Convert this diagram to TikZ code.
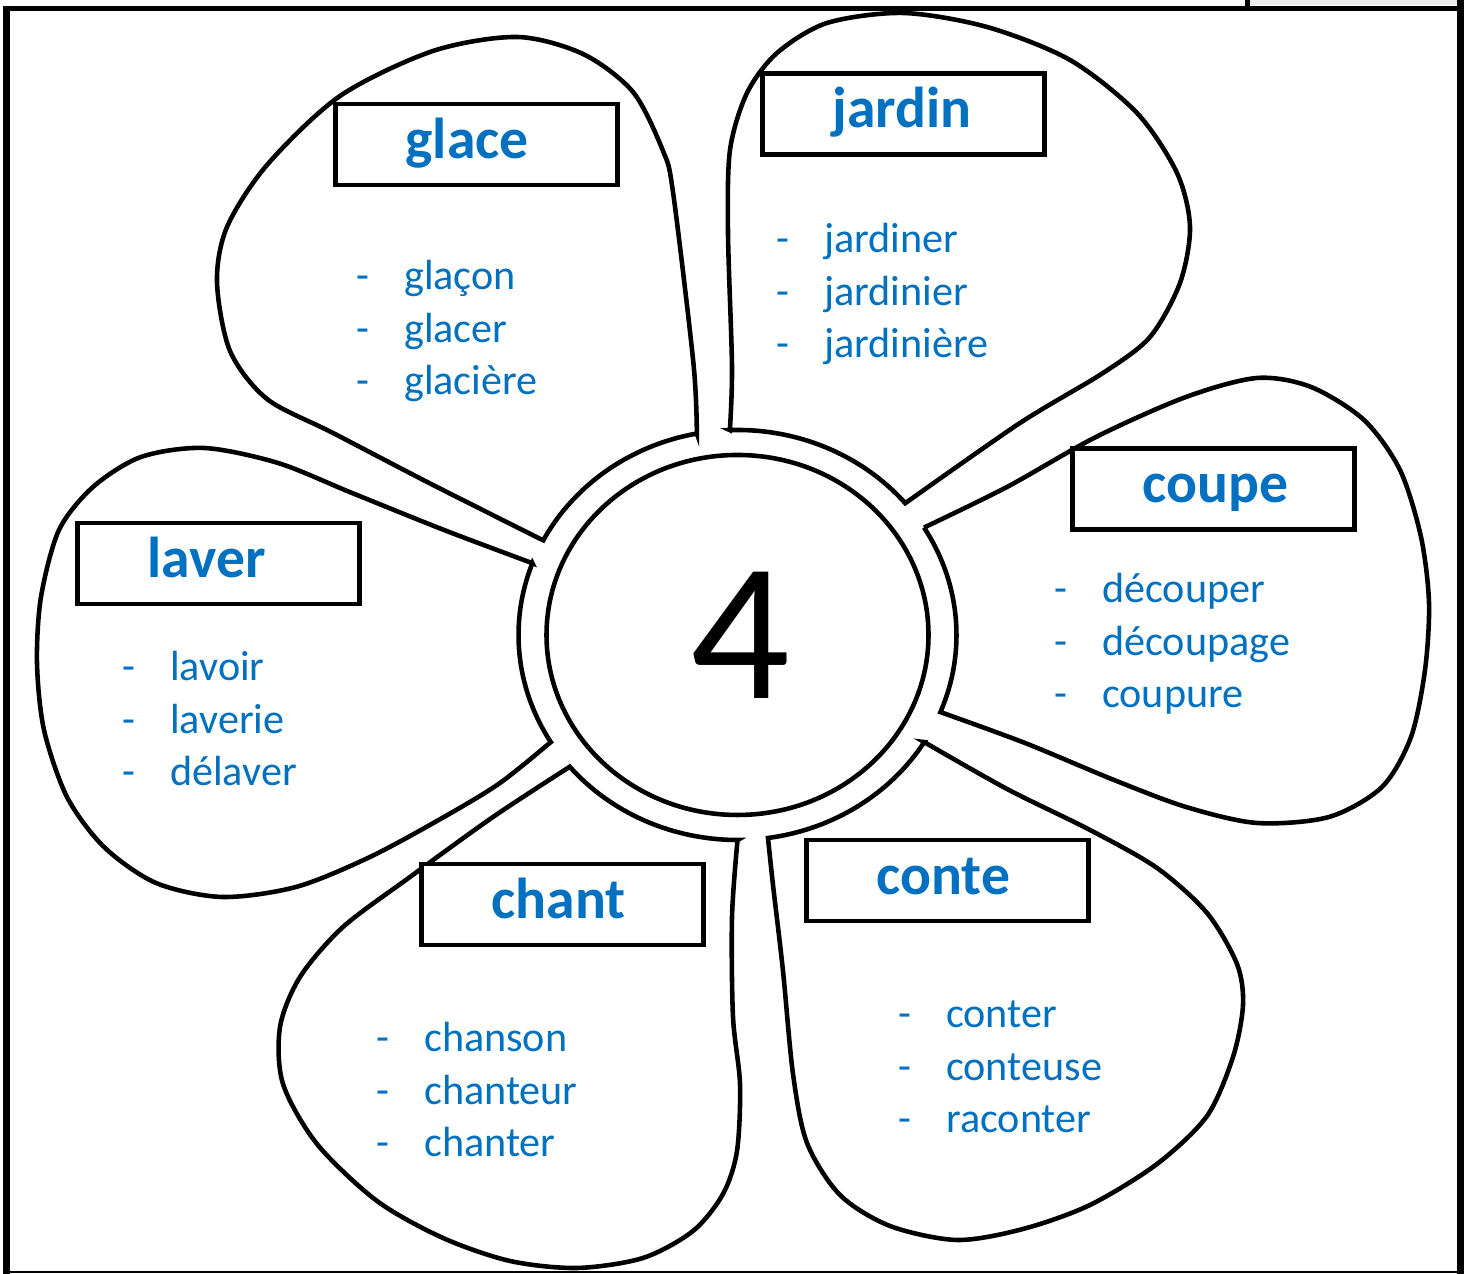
\documentclass[tikz,border=0pt]{standalone}
\usepackage{fontspec}
\setmainfont{Carlito}
\usepackage{tikz}

\definecolor{wordblue}{HTML}{0070C0}
\newcommand{\tiret}{\makebox[0.48cm][l]{-}\strut}
\newcommand{\titre}[1]{\makebox[1.42cm][l]{#1}}

\tikzset{
  petal/.style={line width=1.3pt},
  headbox/.style={draw, line width=1.3pt, fill=white, minimum width=2.82cm,
    minimum height=0.81cm, inner sep=0pt, text=wordblue,
    font=\fontsize{16.4}{19}\selectfont\bfseries, text height=0.4cm, text depth=0.12cm},
  wordlist/.style={anchor=west, inner sep=0pt, align=left, text=wordblue,
    font=\fontsize{12}{14.94}\selectfont},
  frame/.style={line width=2pt}
}

\begin{document}
\begin{tikzpicture}
  \useasboundingbox[fill=white] (0,0) rectangle (14.69,12.74);
  % cadre
  \fill[gray!15] (12.50,12.69) rectangle (14.57,12.74);
  \fill (12.45,12.68) rectangle (12.50,12.74);
  \draw[frame] (0.065,0) -- (0.065,12.68);
  \draw[line width=1.4pt] (0.03,12.655) -- (14.63,12.655);
  \draw[frame] (14.60,0) -- (14.60,12.74);
  \draw[line width=0.6pt] (0.1,0.02) -- (14.6,0.02);

  \begin{scope}[shift={(7.375,6.39)}]
    % coeur
    \draw[petal] (0,0) ellipse [x radius=1.91, y radius=1.80];
    \node (nombre) at (0.025,0) {\fontsize{56}{60}\selectfont 4};

    % petales
    \draw[petal] plot[smooth] coordinates {(100.7:2.19 and 2.05) (-0.44,2.71)
      (-0.645,4.43) (-0.745,4.84) (-1.045,5.43) (-1.545,5.81) (-2.205,5.98)
      (-3.045,5.84) (-3.975,5.39) (-4.705,4.70) (-5.105,4.08) (-5.205,3.53)
      (-5.075,2.84) (-4.705,2.36) (-4.045,2.02) (-3.045,1.50) (152.5:2.19 and 2.05)}
      arc[start angle=152.5, end angle=100.7, x radius=2.19, y radius=2.05] -- cycle;
    \draw[petal] plot[smooth] coordinates {(92:2.19 and 2.05) (-0.055,2.68)
      (-0.095,4.02) (-0.075,4.85) (0.095,5.42) (0.395,5.82) (0.895,6.12)
      (1.655,6.22) (2.495,6.08) (3.325,5.75) (3.995,5.22) (4.395,4.62)
      (4.525,4.08) (4.425,3.52) (4.125,2.98) (3.655,2.62) (2.825,2.12) (40:2.19 and 2.05)}
      arc[start angle=40, end angle=92, x radius=2.19, y radius=2.05] -- cycle;
    \draw[petal] plot[smooth] coordinates {(31.6:2.19 and 2.05) (2.695,1.48)
      (3.585,1.98) (4.485,2.38) (5.195,2.57) (5.735,2.48) (6.265,2.15)
      (6.625,1.65) (6.835,0.98) (6.915,0.32) (6.875,-0.35) (6.735,-1.02)
      (6.445,-1.52) (5.915,-1.82) (5.195,-1.88) (4.485,-1.72) (3.765,-1.45)
      (2.875,-1.08) (-22.1:2.19 and 2.05)}
      arc[start angle=-22.1, end angle=31.6, x radius=2.19, y radius=2.05] -- cycle;
    \draw[petal] plot[smooth] coordinates {(-31.5:2.19 and 2.05) (2.695,-1.54)
      (3.525,-1.95) (4.195,-2.33) (4.695,-2.78) (4.995,-3.29) (5.055,-3.70)
      (4.955,-4.22) (4.695,-4.81) (4.195,-5.29) (3.525,-5.70) (2.855,-5.94)
      (2.195,-6.05) (1.525,-5.91) (1.025,-5.60) (0.695,-5.08) (0.555,-4.39)
      (0.455,-3.36) (0.355,-2.50) (-82:2.19 and 2.05)}
      arc[start angle=-82, end angle=-31.5, x radius=2.19, y radius=2.05] -- cycle;
    \draw[petal] plot[smooth] coordinates {(-90:2.19 and 2.05) (-0.055,-2.82)
      (-0.045,-3.82) (0.025,-4.49) (-0.005,-5.16) (-0.145,-5.59) (-0.445,-5.96)
      (-0.945,-6.23) (-1.605,-6.33) (-2.275,-6.26) (-2.945,-6.03) (-3.605,-5.66)
      (-4.205,-5.09) (-4.545,-4.49) (-4.575,-3.92) (-4.375,-3.42) (-3.945,-2.92)
      (-3.275,-2.42) (-2.445,-1.82) (220:2.19 and 2.05)}
      arc[start angle=220, end angle=270, x radius=2.19, y radius=2.05] -- cycle;
    \draw[petal] plot[smooth] coordinates {(159.5:2.19 and 2.05) (-2.935,1.05)
      (-3.855,1.42) (-4.595,1.72) (-5.335,1.87) (-5.965,1.78) (-6.445,1.48)
      (-6.785,1.05) (-6.965,0.38) (-7.005,-0.28) (-6.935,-0.95) (-6.705,-1.62)
      (-6.335,-2.12) (-5.815,-2.48) (-5.155,-2.62) (-4.415,-2.52) (-3.675,-2.22)
      (-2.935,-1.82) (-2.375,-1.48) (211.5:2.19 and 2.05)}
      arc[start angle=211.5, end angle=159.5, x radius=2.19, y radius=2.05] -- cycle;
  \end{scope}

  % mots
  \node[headbox] (glace) at (4.765,11.295) {\titre{glace}};
  \node[headbox] (jardin) at (9.035,11.60) {\titre{jardin}};
  \node[headbox] (coupe) at (12.135,7.85) {\titre{coupe}};
  \node[headbox] (laver) at (2.185,7.105) {\titre{laver}};
  \node[headbox] (chant) at (5.625,3.695) {\titre{chant}};
  \node[headbox] (conte) at (9.475,3.933) {\titre{conte}};

  \node[wordlist] (glace-mots) at (3.555,9.42) {\tiret glaçon\\ \tiret glacer\\ \tiret glacière};
  \node[wordlist] (jardin-mots) at (7.755,9.79) {\tiret jardiner\\ \tiret jardinier\\ \tiret jardinière};
  \node[wordlist] (coupe-mots) at (10.535,6.29) {\tiret découper\\ \tiret découpage\\ \tiret coupure};
  \node[wordlist] (laver-mots) at (1.215,5.51) {\tiret lavoir\\ \tiret laverie\\ \tiret délaver};
  \node[wordlist] (chant-mots) at (3.755,1.80) {\tiret chanson\\ \tiret chanteur\\ \tiret chanter};
  \node[wordlist] (conte-mots) at (8.975,2.04) {\tiret conter\\ \tiret conteuse\\ \tiret raconter};
\end{tikzpicture}
\end{document}
